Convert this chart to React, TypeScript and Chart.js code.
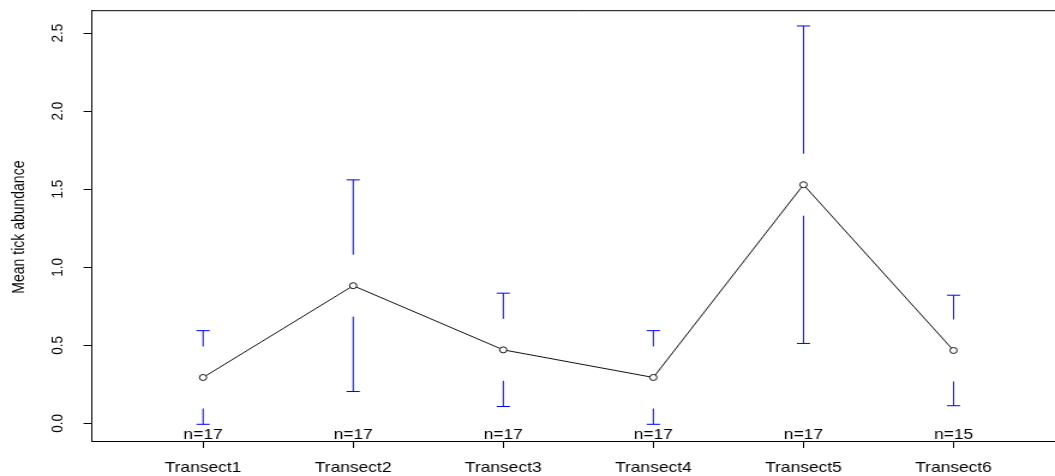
import { useEffect, useRef } from "react";
import { Chart, registerables } from "chart.js";

Chart.register(...registerables);

// ---- data ----
const categories = ["Transect1", "Transect2", "Transect3", "Transect4", "Transect5", "Transect6"];
const means = [0.294, 0.882, 0.471, 0.294, 1.529, 0.467];
const upper = [0.594, 1.56, 0.834, 0.594, 2.546, 0.821];
const lower = [-0.006, 0.204, 0.108, -0.006, 0.512, 0.113];
const counts = [17, 17, 17, 17, 17, 15];
const yTicks = [0, 0.5, 1, 1.5, 2, 2.5];
const yTickLabels = ["0.0", "0.5", "1.0", "1.5", "2.0", "2.5"];
const yTitle = "Mean tick abundance";

// ---- layout ----
const VW = 1055;
const W = 879;
const H = 476;
const SX = VW / W;
const CW = W + 8;
const FONT = '"Liberation Sans", Arial, sans-serif';
const GAP = 31;
const CAP = 5.5;

const overlay = {
  id: "overlay",
  beforeDatasetsDraw(chart: any) {
    const { ctx, scales } = chart;
    const xs = scales.x;
    const ys = scales.y;
    ctx.save();
    ctx.strokeStyle = "#0000ff";
    ctx.lineWidth = 1;
    for (let i = 0; i < means.length; i++) {
      const px = xs.getPixelForValue(i + 1);
      const py = ys.getPixelForValue(means[i]);
      const pu = ys.getPixelForValue(upper[i]);
      const pl = ys.getPixelForValue(lower[i]);
      ctx.beginPath();
      if (pu < py - GAP) {
        ctx.moveTo(px, pu);
        ctx.lineTo(px, py - GAP);
      }
      if (pl > py + GAP) {
        ctx.moveTo(px, py + GAP);
        ctx.lineTo(px, pl);
      }
      ctx.moveTo(px - CAP, pu);
      ctx.lineTo(px + CAP, pu);
      ctx.moveTo(px - CAP, pl);
      ctx.lineTo(px + CAP, pl);
      ctx.stroke();
    }
    ctx.restore();
  },
  afterDraw(chart: any) {
    const { ctx, scales, chartArea } = chart;
    const xs = scales.x;
    const ys = scales.y;
    ctx.save();
    // top border
    ctx.strokeStyle = "#000";
    ctx.lineWidth = 1;
    ctx.beginPath();
    ctx.moveTo(chartArea.left, chartArea.top + 0.5);
    ctx.lineTo(chartArea.right, chartArea.top + 0.5);
    ctx.stroke();

    ctx.fillStyle = "#000";
    // n labels
    ctx.font = `14.5px ${FONT}`;
    ctx.textAlign = "center";
    ctx.textBaseline = "alphabetic";
    for (let i = 0; i < counts.length; i++) {
      const px = xs.getPixelForValue(i + 1);
      ctx.fillText(`n=${counts[i]}`, px, chartArea.bottom - 2);
    }
    // x tick labels
    for (let i = 0; i < categories.length; i++) {
      const px = xs.getPixelForValue(i + 1);
      ctx.fillText(categories[i], px, chartArea.bottom + 31);
    }
    // y tick labels (rotated)
    ctx.font = `13.5px ${FONT}`;
    ctx.textBaseline = "middle";
    for (let i = 0; i < yTicks.length; i++) {
      const py = ys.getPixelForValue(yTicks[i]);
      ctx.save();
      ctx.translate(48.5, py);
      ctx.rotate(-Math.PI / 2);
      ctx.fillText(yTickLabels[i], 0, 0);
      ctx.restore();
    }
    // y title
    ctx.font = `14px ${FONT}`;
    ctx.save();
    ctx.translate(15.8, (chartArea.top + chartArea.bottom) / 2 + 1.5);
    ctx.rotate(-Math.PI / 2);
    ctx.fillText(yTitle, 0, 0);
    ctx.restore();
    ctx.restore();
  },
};

export default function App() {
  const ref = useRef<HTMLCanvasElement>(null);
  useEffect(() => {
    document.body.style.margin = "0";
    document.body.style.overflow = "hidden";
    const chart = new Chart(ref.current as HTMLCanvasElement, {
      type: "line",
      data: {
        datasets: [
          {
            data: means.map((m, i) => ({ x: i + 1, y: m })),
            borderColor: "#111",
            borderWidth: 1,
            pointRadius: 3,
            pointBorderColor: "#111",
            pointBackgroundColor: "#fff",
            pointBorderWidth: 1,
            tension: 0,
          },
        ],
      },
      options: {
        animation: false,
        responsive: false,
        devicePixelRatio: 1,
        layout: { autoPadding: false, padding: { top: 8, right: 0, bottom: 0, left: 0 } },
        plugins: { legend: { display: false }, tooltip: { enabled: false } },
        scales: {
          x: {
            type: "linear",
            min: 0.26,
            max: 6.74,
            bounds: "data",
            afterBuildTicks: (s: any) => {
              s.ticks = categories.map((_, i) => ({ value: i + 1 }));
            },
            afterFit: (s: any) => {
              s.height = 35;
            },
            ticks: { color: "rgba(0,0,0,0)", autoSkip: false, font: { size: 14 } },
            grid: { display: true, drawOnChartArea: false, drawTicks: true, tickLength: 7, color: "#000", lineWidth: 1 },
            border: { display: true, color: "#000", width: 1 },
          },
          y: {
            type: "linear",
            min: -0.113,
            max: 2.647,
            bounds: "data",
            afterBuildTicks: (s: any) => {
              s.ticks = yTicks.map((v) => ({ value: v }));
            },
            afterFit: (s: any) => {
              s.width = 92 / SX;
            },
            ticks: { color: "rgba(0,0,0,0)", autoSkip: false },
            grid: { display: true, drawOnChartArea: false, drawTicks: true, tickLength: 7, color: "#000", lineWidth: 1 },
            border: { display: true, color: "#000", width: 1 },
          },
        },
      },
      plugins: [overlay],
    } as any);
    return () => chart.destroy();
  }, []);
  return (
    <div
      style={{
        position: "fixed",
        left: 0,
        top: 0,
        width: VW,
        height: H,
        overflow: "hidden",
        background: "#fff",
      }}
    >
      <div
        style={{
          width: CW,
          height: H,
          transform: `scaleX(${SX})`,
          transformOrigin: "0 0",
        }}
      >
        <canvas ref={ref} width={CW} height={H} style={{ width: CW, height: H, display: "block" }} />
      </div>
    </div>
  );
}
